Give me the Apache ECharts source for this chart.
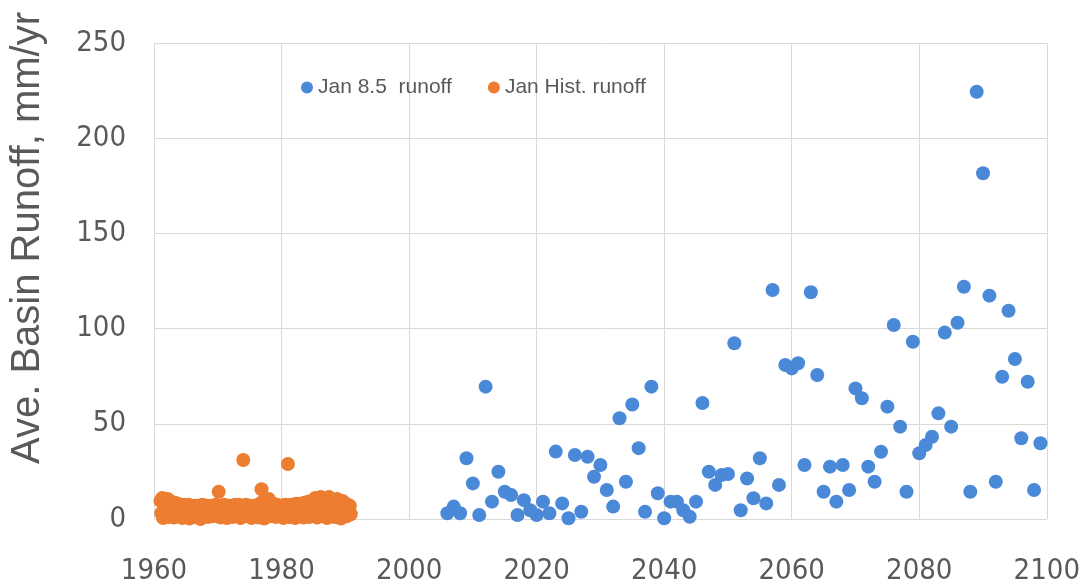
<!DOCTYPE html>
<html>
<head>
<meta charset="utf-8">
<script src="https://cdn.jsdelivr.net/npm/echarts@6/dist/echarts.min.js"></script>
<style>
  html, body { margin: 0; padding: 0; background: #ffffff; }
  #chart { width: 1083px; height: 588px; }
</style>
</head>
<body>
<div id="chart"></div>
<script>
// Axis ticks
const xTicks = [1960, 1980, 2000, 2020, 2040, 2060, 2080, 2100];
const yTicks = [0, 50, 100, 150, 200, 250];

// RCP 8.5 projection, January basin runoff (mm/yr), one value per year from 2006
const futureStart = 2006;
const futureRunoff = [
  3.0, 6.5, 3.0, 31.9, 18.7, 2.1, 69.5, 9.1, 24.8, 14.3,      // 2006-2015
  12.6, 2.1, 9.9, 4.6, 2.1, 9.1, 3.0, 35.4, 8.2, 0.4,         // 2016-2025
  33.6, 3.8, 32.7, 22.2, 28.4, 15.2, 6.5, 52.9, 19.6, 60.1,   // 2026-2035
  37.2, 3.8, 69.5, 13.5, 0.4, 9.1, 9.1, 4.6, 1.2, 9.1,        // 2036-2045
  60.9, 24.8, 17.9, 23.1, 23.6, 92.3, 4.6, 21.3, 10.9, 31.9,  // 2046-2055
  8.2, 120.3, 17.9, 80.9, 79.1, 81.8, 28.4, 119.1, 75.6, 14.3, // 2056-2065
  27.5, 9.1, 28.4, 15.2, 68.6, 63.4, 27.5, 19.6, 35.3, 59.0,  // 2066-2075
  101.9, 48.5, 14.3, 93.1, 34.5, 38.9, 43.2, 55.5, 97.9, 48.5, // 2076-2085
  103.1, 122.0, 14.3, 224.4, 181.6, 117.3, 19.6, 74.7, 109.4, 84.0, // 2086-2095
  42.4, 72.1, 15.2, 39.8                                      // 2096-2099
];

// Historical January runoff (mm/yr): seven sub-annual values for each year from 1961
const histStart = 1961;
const histRunoff = [
  [9.5, 3.0, 11.0, 0.5, 5.0, 8.0, 2.5],    // 1961
  [4.5, 10.5, 1.0, 7.0, 3.5, 9.0, 5.5],    // 1962
  [6.0, 0.8, 8.5, 3.0, 6.5, 8.0, 2.0],     // 1963
  [2.5, 7.5, 4.5, 0.5, 6.0, 7.5, 3.5],     // 1964
  [6.5, 2.5, 4.0, 7.5, 0.3, 5.0, 3.0],     // 1965
  [4.0, 1.0, 7.0, 2.5, 4.5, 7.0, 1.5],     // 1966
  [2.0, 6.5, 0.0, 4.0, 7.5, 4.5, 2.5],     // 1967
  [5.0, 2.0, 7.0, 1.0, 4.0, 7.0, 3.0],     // 1968
  [3.5, 7.0, 1.5, 4.5, 2.5, 7.5, 5.0],     // 1969
  [2.0, 14.3, 5.5, 0.8, 4.0, 7.0, 2.5],    // 1970
  [7.5, 1.5, 4.5, 0.5, 6.0, 7.0, 3.0],     // 1971
  [3.0, 7.0, 1.0, 5.0, 2.5, 7.5, 4.5],     // 1972
  [5.5, 1.5, 7.5, 3.5, 0.5, 6.5, 2.5],     // 1973
  [31.0, 4.5, 1.5, 7.5, 3.0, 6.5, 5.0],    // 1974
  [3.5, 7.0, 0.5, 4.5, 2.0, 7.0, 5.5],     // 1975
  [6.5, 2.5, 5.0, 0.8, 8.0, 3.5, 15.6],    // 1976
  [9.0, 3.5, 0.3, 10.0, 5.5, 7.5, 2.0],    // 1977
  [10.5, 4.5, 1.5, 7.0, 3.0, 8.0, 5.5],    // 1978
  [6.5, 1.0, 7.5, 3.5, 5.0, 7.0, 2.5],     // 1979
  [2.5, 7.0, 0.5, 4.5, 7.5, 5.5, 3.0],     // 1980
  [28.9, 4.0, 1.0, 7.5, 3.0, 6.5, 5.0],    // 1981
  [5.5, 0.5, 8.0, 3.5, 2.0, 7.0, 4.5],     // 1982
  [8.0, 3.0, 5.0, 0.8, 8.5, 6.5, 2.0],     // 1983
  [4.0, 9.0, 1.0, 6.5, 4.5, 9.5, 2.5],     // 1984
  [9.5, 2.5, 11.0, 5.5, 0.8, 8.5, 4.0],    // 1985
  [5.0, 11.5, 1.5, 8.0, 3.5, 10.0, 6.0],   // 1986
  [10.5, 0.5, 6.5, 11.5, 3.0, 9.0, 5.0],   // 1987
  [4.0, 10.0, 1.0, 7.5, 5.5, 10.5, 2.5],   // 1988
  [9.0, 3.0, 0.3, 6.5, 9.5, 8.0, 4.5],     // 1989
  [5.0, 8.0, 1.5, 6.0, 3.5, 7.0, 2.5]      // 1990
];

const seriesNames = ['Jan 8.5  runoff', 'Jan Hist. runoff'];
const seriesColors = ['#4a88d8', '#ed7d31'];
const yAxisTitle = 'Ave. Basin Runoff, mm/yr';

// Build [x, y] pairs for the scatter series
const futureData = futureRunoff.map((v, i) => [futureStart + i, v]);
const histData = [];
histRunoff.forEach((row, i) => {
  row.forEach((v, j) => {
    histData.push([histStart + i + j / row.length, v]);
  });
});

const textColor = '#595959';
const gridColor = '#d9d9d9';
const tickFont = '"DejaVu Sans Condensed", "Liberation Sans", sans-serif';

const chart = echarts.init(document.getElementById('chart'), null, { renderer: 'canvas' });
chart.setOption({
  animation: false,
  backgroundColor: '#ffffff',
  grid: { left: 154, right: 35, top: 43, bottom: 69, containLabel: false },
  legend: {
    left: 296,
    top: 72,
    icon: 'circle',
    itemWidth: 12,
    itemHeight: 12,
    itemGap: 36,
    textStyle: { color: textColor, fontSize: 21, fontFamily: '"Liberation Sans", Arial, sans-serif' },
    data: seriesNames
  },
  xAxis: {
    type: 'value',
    min: xTicks[0],
    max: xTicks[xTicks.length - 1],
    interval: xTicks[1] - xTicks[0],
    axisLine: { show: false },
    axisTick: { show: false },
    splitLine: { show: true, lineStyle: { color: gridColor, width: 1 } },
    axisLabel: {
      color: textColor,
      fontSize: 29,
      fontFamily: tickFont,
      margin: 38,
      formatter: v => String(v)
    }
  },
  yAxis: {
    type: 'value',
    min: yTicks[0],
    max: yTicks[yTicks.length - 1],
    interval: yTicks[1] - yTicks[0],
    axisLine: { show: false },
    axisTick: { show: false },
    splitLine: { show: true, lineStyle: { color: gridColor, width: 1 } },
    axisLabel: {
      color: textColor,
      fontSize: 29,
      fontFamily: tickFont,
      margin: 28
    }
  },
  graphic: [{
    type: 'text',
    x: 28,
    y: 238,
    rotation: Math.PI / 2,
    style: {
      text: yAxisTitle,
      fill: textColor,
      font: '40px "Liberation Sans", Arial, sans-serif',
      align: 'center',
      verticalAlign: 'middle'
    }
  }],
  series: [
    {
      name: seriesNames[0],
      type: 'scatter',
      symbol: 'circle',
      symbolSize: 14,
      clip: false,
      itemStyle: { color: seriesColors[0], opacity: 1 },
      data: futureData
    },
    {
      name: seriesNames[1],
      type: 'scatter',
      symbol: 'circle',
      symbolSize: 14,
      clip: false,
      itemStyle: { color: seriesColors[1], opacity: 1 },
      data: histData
    }
  ]
});
</script>
</body>
</html>
